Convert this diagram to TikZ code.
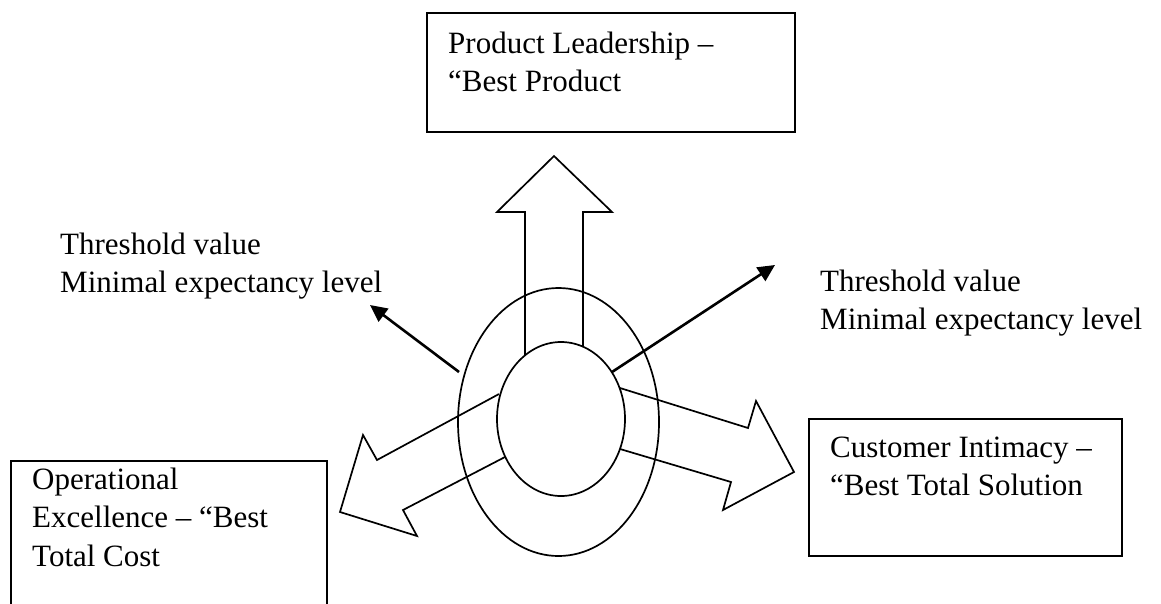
\documentclass[tikz,border=0pt]{standalone}
\usepackage{fontspec}
\setmainfont{Liberation Serif}
\usetikzlibrary{arrows.meta}
\tikzset{
  boxline/.style={draw=black, line width=2.4pt},
  shapeline/.style={draw=black, line width=1.7pt, line join=miter},
  thinarrow/.style={draw=black, line width=2.6pt, -{Triangle[length=17pt,width=16pt]}},
  lbl/.style={anchor=base west, inner sep=0pt, align=left, font=\fontsize{31}{37.5}\selectfont},
}
\begin{document}
\begin{tikzpicture}[x=1pt,y=-1pt]
\useasboundingbox (0,0) rectangle (1161,603);
% boxes
\draw[boxline] (427,13) rectangle (795,132);
\draw[boxline] (11,620) -- (11,461) -- (327,461) -- (327,620);
\draw[boxline] (809,419) rectangle (1122,556);
% box texts (anchored at the baseline of the last line)
\node[lbl] (prod) at (448,91) {Product Leadership –\\“Best Product};
\node[lbl, font=\fontsize{31}{38.5}\selectfont] (oper) at (32,566) {Operational\\Excellence – “Best\\Total Cost};
\node[lbl] (cust) at (830,495) {Customer Intimacy –\\“Best Total Solution};
% threshold texts
\node[lbl] (thl) at (60,292) {Threshold value\\Minimal expectancy level};
\node[lbl] (thr) at (820,329) {Threshold value\\Minimal expectancy level};
% ellipses
\draw[shapeline] (558.5,422) ellipse [x radius=100.5, y radius=134];
\draw[shapeline] (561,419) ellipse [x radius=64, y radius=77];
% hollow arrows
\draw[shapeline] (525,355) -- (525,212) -- (497,212) -- (554,156) -- (612,212) -- (583,212) -- (583,347);
\draw[shapeline] (620,388) -- (748,428) -- (756,401) -- (794,472) -- (723,510) -- (731,482) -- (620,449);
\draw[shapeline] (499,394) -- (377,460) -- (363,435) -- (340,512) -- (417,536) -- (403,510) -- (505,457);
% thin arrows
\coordinate (la0) at (459,372);
\coordinate (la1) at (370,305);
\coordinate (ra0) at (612,372);
\coordinate (ra1) at (775,265);
\draw[thinarrow] (la0) -- (la1);
\draw[thinarrow] (ra0) -- (ra1);
\end{tikzpicture}
\end{document}
